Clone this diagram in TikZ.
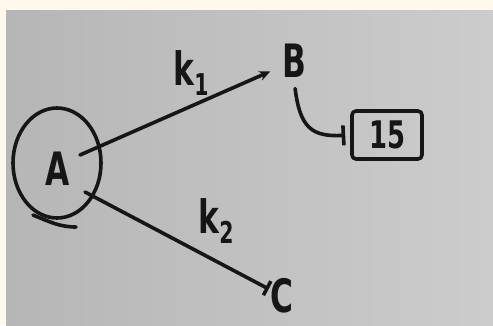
\documentclass[tikz,border=0pt]{standalone}
\usepackage{fontspec}
\newfontfamily\hand[FakeStretch=0.68]{DejaVu Sans}
\newcommand\subtxt[1]{\raisebox{-0.2em}{\fontsize{30}{30}\selectfont #1}}
\usetikzlibrary{arrows.meta,calc}
\definecolor{beige}{RGB}{255,248,236}
\definecolor{paperL}{RGB}{182,182,182}
\definecolor{paperR}{RGB}{204,204,204}
\definecolor{ink}{RGB}{22,22,22}
\begin{document}
\begin{tikzpicture}[x=1pt,y=-1pt,
  line width=3.6pt, line cap=round, line join=round,
  lbl/.style={font=\hand\bfseries\fontsize{46}{46}\selectfont, text=ink, inner sep=0pt},
  valbox/.style={draw=ink, rounded corners=4pt, minimum width=70pt, minimum height=48pt,
    inner sep=0pt, font=\hand\bfseries\fontsize{38}{38}\selectfont, text=ink},
  edge/.style={draw=ink}]
\useasboundingbox (0,0) rectangle (493,325);
\fill[beige] (0,0) rectangle (493,325);
\shade[left color=paperL, right color=paperR] (6,10) rectangle (493,325);

% nodes
\node[lbl] (A) at (58,169) {A};
\node[lbl] (B) at (294,61) {B};
\node[lbl] (C) at (282,296) {C};
\node[valbox] (N) at (387,135) {15};
\node[lbl] (k1) at (191,73) {k\subtxt{1}};
\node[lbl] (k2) at (216,221) {k\subtxt{2}};

% self loop on A
\draw[edge] ($(A)+(-1,-6)$) ellipse [x radius=44, y radius=55];
\draw[edge] ($(A)+(-25,46)$) .. controls ($(A)+(-8,53)$) and ($(A)+(2,58)$) .. ($(A)+(18,58)$);

% connectors
\draw[edge, -{Stealth[length=11pt,width=10pt]}, shorten >=11pt]
  ($(A)+(22,-14)$) -- (B);
\draw[edge, -{Bar[width=16pt]}] ($(A)+(27,23)$) -- (C);
\draw[edge, -{Bar[width=20pt]}, shorten <=9pt, shorten >=5pt]
  (B.south) .. controls (300,128) and (312,137) .. (N.west);
\end{tikzpicture}
\end{document}
